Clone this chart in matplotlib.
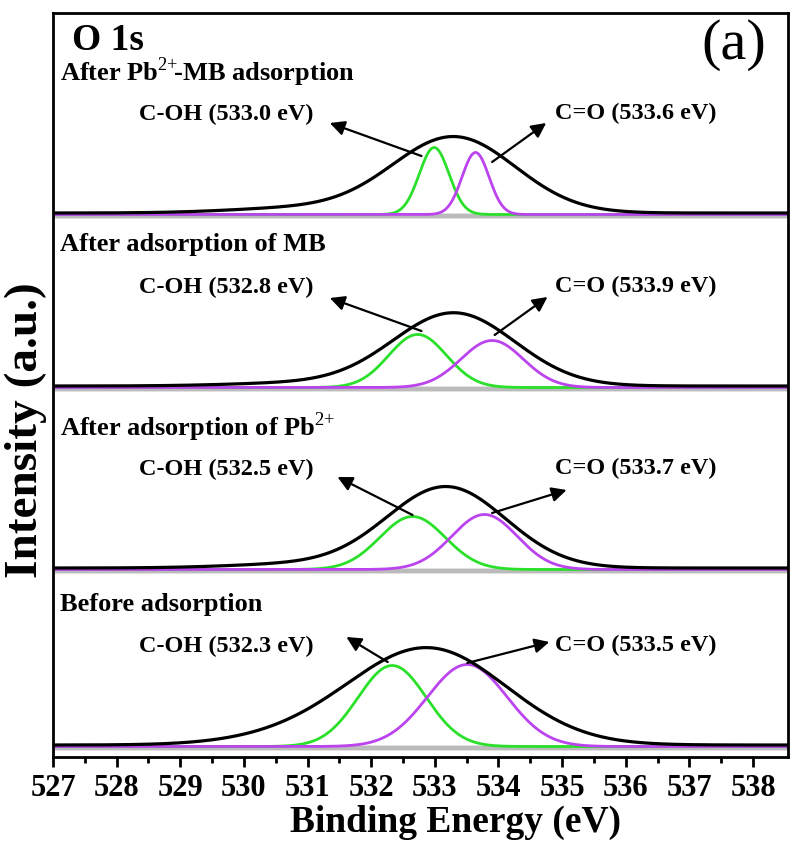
import numpy as np
import matplotlib
matplotlib.use('Agg')
import matplotlib.pyplot as plt

plt.rcParams['font.family'] = ['Liberation Serif', 'DejaVu Serif']
plt.rcParams['mathtext.fontset'] = 'custom'
plt.rcParams['mathtext.rm'] = 'Liberation Serif'
plt.rcParams['mathtext.bf'] = 'Liberation Serif:bold'

# panels from top to bottom
titles = [r'After Pb$^{2{+}}\!$-MB adsorption', 'After adsorption of MB',
          r'After adsorption of Pb$^{2{+}}$', 'Before adsorption']
coh_labels = ['C-OH (533.0 eV)', 'C-OH (532.8 eV)', 'C-OH (532.5 eV)', 'C-OH (532.3 eV)']
co_labels = ['C=O (533.6 eV)', 'C=O (533.9 eV)', 'C=O (533.7 eV)', 'C=O (533.5 eV)']

# fitted components: centre (eV), height (a.u.), FWHM (eV)
coh_center = [532.99, 532.73, 532.65, 532.33]
coh_height = [67, 53, 53, 81]
coh_fwhm = [0.55, 1.07, 1.21, 1.26]
co_center = [533.64, 533.90, 533.78, 533.51]
co_height = [62, 47, 55, 82]
co_fwhm = [0.50, 1.15, 1.21, 1.47]
env_center = [533.30, 533.30, 533.18, 532.90]
env_height = [76, 73, 81, 96]
env_fwhm = [2.28, 2.26, 2.20, 2.89]
shoulder_height = [5, 3, 4, 7]

# vertical stacking of the spectra
offsets = [544, 371, 189, 12]

be = np.linspace(527, 538.6, 1200)


def gauss(x, c, h, fwhm):
    s = fwhm / 2.3548
    return h * np.exp(-0.5 * ((x - c) / s) ** 2)


fig = plt.figure(figsize=(7.9, 8.43), dpi=100)
ax = fig.add_axes([53 / 790, 1 - 757 / 843, 735 / 790, 744 / 843])

green = '#2BE02B'
violet = '#BB44EE'

for i in range(4):
    y0 = offsets[i]
    ax.plot(be, np.full_like(be, y0 - 3), color='#BBBBBB', lw=3.5, zorder=1)
    ax.plot(be, y0 - 1.5 + gauss(be, coh_center[i], coh_height[i], coh_fwhm[i]),
            color=green, lw=2, zorder=2)
    ax.plot(be, y0 - 1.5 + gauss(be, co_center[i], co_height[i], co_fwhm[i]),
            color=violet, lw=2, zorder=2)
    env = gauss(be, env_center[i], env_height[i], env_fwhm[i]) \
        + gauss(be, 530.9, shoulder_height[i], 2.6)
    ax.plot(be, y0 + env, color='black', lw=2.3, zorder=3)

    ax.text(527.11, y0 + 141, titles[i], fontsize=19, fontweight='bold',
            va='center', ha='left')
    ax.text(529.73, y0 + 99, coh_labels[i], fontsize=17.5, fontweight='bold',
            va='center', ha='center')
    ax.text(536.15, y0 + 100, co_labels[i], fontsize=17.5, fontweight='bold',
            va='center', ha='center')

# arrows: tail on the component, head next to the label
coh_arrows = [((532.79, 57), (531.35, 90)), ((532.79, 55), (531.35, 88)),
              ((532.65, 53), (531.47, 91)), ((532.26, 83), (531.61, 108))]
co_arrows = [((533.90, 51), (534.75, 90)), ((533.94, 51), (534.77, 89)),
             ((533.90, 55), (535.07, 78)), ((533.51, 82), (534.80, 103))]
for i in range(4):
    y0 = offsets[i]
    for (tx, ty), (hx, hy) in (coh_arrows[i], co_arrows[i]):
        ax.annotate('', xy=(hx, y0 + hy), xytext=(tx, y0 + ty),
                    arrowprops=dict(arrowstyle='-|>', color='black', lw=1.6,
                                    mutation_scale=22, shrinkA=0, shrinkB=0),
                    zorder=4)

ax.text(527.30, 717, 'O 1s', fontsize=27, fontweight='bold', va='center', ha='left')
ax.text(537.70, 712, '(a)', fontsize=42, va='center', ha='center')

ax.set_xlim(527, 538.55)
ax.set_ylim(0, 744)
ax.set_xticks(np.arange(527, 539, 1))
ax.set_xticks(np.arange(527.5, 538.5, 1), minor=True)
ax.set_yticks([])
ax.tick_params(axis='x', which='major', direction='out', length=7.5, width=2,
               labelsize=22, pad=5)
ax.tick_params(axis='x', which='minor', direction='out', length=4.5, width=2)
for lab in ax.get_xticklabels():
    lab.set_fontweight('bold')
for sp in ax.spines.values():
    sp.set_linewidth(2)

ax.set_xlabel('Binding Energy (eV)', fontsize=27, fontweight='bold', labelpad=1)
ax.xaxis.label.set_x((455 - 53) / 735)
ax.set_ylabel('Intensity (a.u.)', fontsize=34, fontweight='bold', labelpad=4)
ax.yaxis.label.set_y((757 - 430) / 744)

fig.savefig('out.png', dpi=100)
